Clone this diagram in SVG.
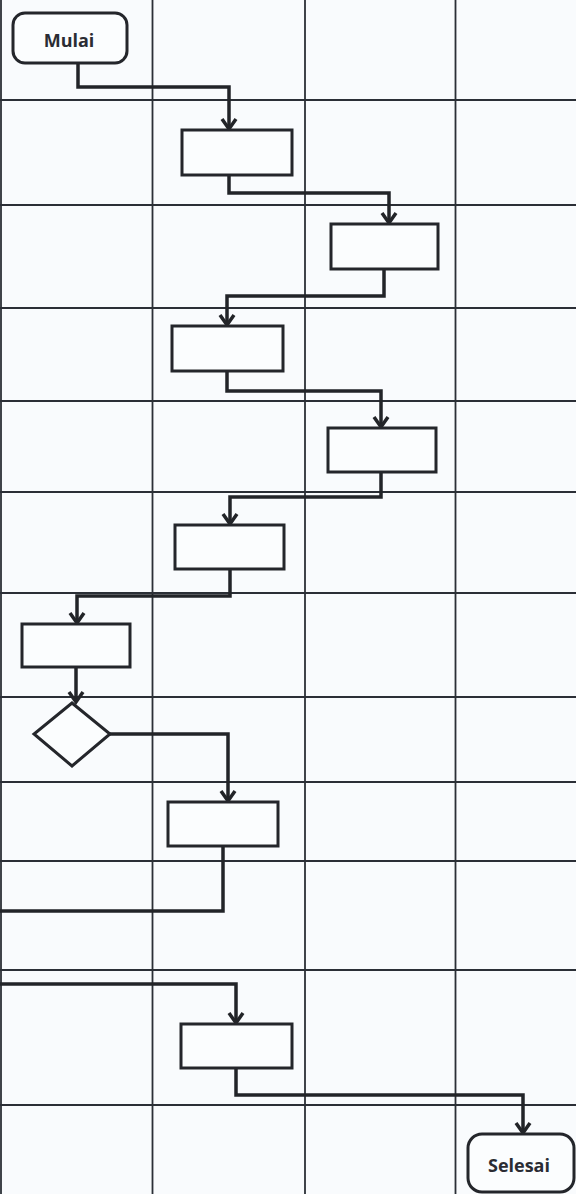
<svg xmlns="http://www.w3.org/2000/svg" width="576" height="1194" viewBox="0 0 576 1194">
<style>
.grid{stroke:#2b2f36;stroke-width:1.8;fill:none}
.node{fill:#fbfdfe;stroke:#24262b;stroke-width:3}
.conn{fill:none;stroke:#222428;stroke-width:3.5;stroke-linejoin:miter}
.lbl{font-family:"Open Sans","Liberation Sans",sans-serif;font-weight:bold;font-size:18px;fill:#2a2c33;text-anchor:middle}
</style>
<defs>
<marker id="arr" markerUnits="userSpaceOnUse" markerWidth="24" markerHeight="24" viewBox="-12 -12 24 24" refX="0" refY="0" orient="auto">
<path d="M-10,-7 L0,0 L-10,7" fill="none" stroke="#222428" stroke-width="3.5" stroke-linejoin="miter"/>
</marker>
</defs>
<rect x="0" y="0" width="576" height="1194" fill="#f9fbfd"/>
<g id="grid">
<line class="grid" x1="1" y1="0" x2="1" y2="1194"/>
<line class="grid" x1="152.5" y1="0" x2="152.5" y2="1194"/>
<line class="grid" x1="305" y1="0" x2="305" y2="1194"/>
<line class="grid" x1="455.5" y1="0" x2="455.5" y2="1194"/>
<line class="grid" x1="0" y1="100" x2="576" y2="100"/>
<line class="grid" x1="0" y1="205" x2="576" y2="205"/>
<line class="grid" x1="0" y1="308" x2="576" y2="308"/>
<line class="grid" x1="0" y1="401" x2="576" y2="401"/>
<line class="grid" x1="0" y1="492" x2="576" y2="492"/>
<line class="grid" x1="0" y1="593" x2="576" y2="593"/>
<line class="grid" x1="0" y1="697" x2="576" y2="697"/>
<line class="grid" x1="0" y1="782" x2="576" y2="782"/>
<line class="grid" x1="0" y1="861" x2="576" y2="861"/>
<line class="grid" x1="0" y1="970" x2="576" y2="970"/>
<line class="grid" x1="0" y1="1105" x2="576" y2="1105"/>
</g>
<g id="connectors">
<path class="conn" d="M78,63 V87 H229 V129" marker-end="url(#arr)"/>
<path class="conn" d="M229,175 V193 H389 V223" marker-end="url(#arr)"/>
<path class="conn" d="M384,269 V296 H227 V325" marker-end="url(#arr)"/>
<path class="conn" d="M227,371 V391 H381 V427" marker-end="url(#arr)"/>
<path class="conn" d="M381,472 V497 H230 V524" marker-end="url(#arr)"/>
<path class="conn" d="M230,569 V596 H77 V623" marker-end="url(#arr)"/>
<path class="conn" d="M76,667 V702" marker-end="url(#arr)"/>
<path class="conn" d="M110,734 H228 V801" marker-end="url(#arr)"/>
<path class="conn" d="M223,846 V911 H0"/>
<path class="conn" d="M0,984 H236 V1023" marker-end="url(#arr)"/>
<path class="conn" d="M236,1068 V1095 H523 V1133" marker-end="url(#arr)"/>
</g>
<g id="start"><rect class="node" x="13" y="13" width="114" height="50" rx="12"/><text class="lbl" x="69" y="47">Mulai</text></g>
<g id="p1"><rect class="node" x="182" y="130" width="110" height="45"/></g>
<g id="p2"><rect class="node" x="331" y="224" width="107" height="45"/></g>
<g id="p3"><rect class="node" x="172" y="326" width="111" height="45"/></g>
<g id="p4"><rect class="node" x="328" y="428" width="108" height="44"/></g>
<g id="p5"><rect class="node" x="175" y="525" width="109" height="44"/></g>
<g id="p6"><rect class="node" x="22" y="624" width="108" height="43"/></g>
<g id="decision"><polygon class="node" points="72,703 110,734 72,766 34,734"/></g>
<g id="p7"><rect class="node" x="168" y="802" width="110" height="44"/></g>
<g id="p8"><rect class="node" x="181" y="1024" width="111" height="44"/></g>
<g id="end"><rect class="node" x="468" y="1134" width="106" height="58" rx="14"/><text class="lbl" x="519" y="1172">Selesai</text></g>
</svg>
